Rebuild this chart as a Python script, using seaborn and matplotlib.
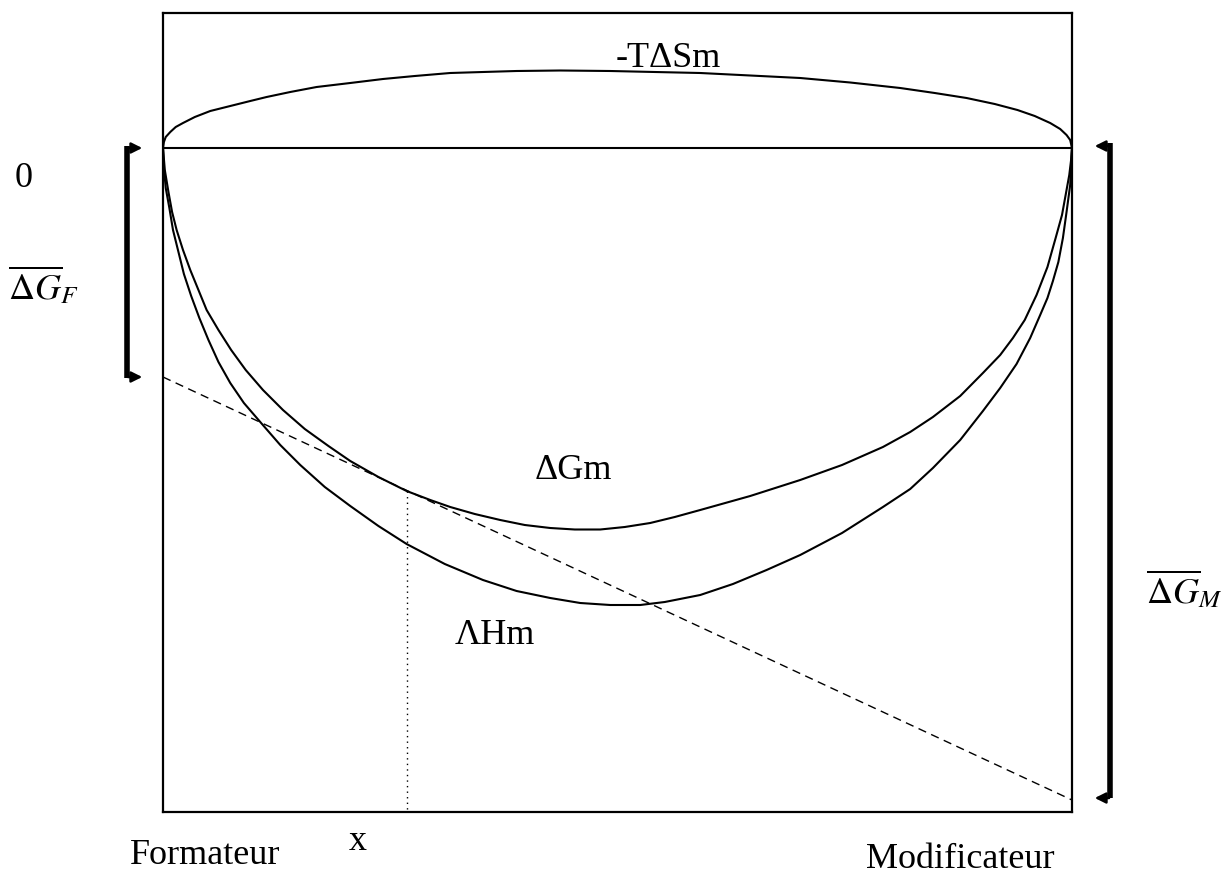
import numpy as np
import pandas as pd
import seaborn as sns
import matplotlib.pyplot as plt

# composition axis (0 = Formateur, 1 = Modificateur) and energies (arbitrary units)
x_tds = [0.000, 0.001, 0.003, 0.008, 0.014, 0.022, 0.035, 0.052, 0.074, 0.096,
         0.114, 0.140, 0.169, 0.206, 0.242, 0.277, 0.316, 0.352, 0.389, 0.437,
         0.492, 0.541, 0.591, 0.646, 0.701, 0.756, 0.811, 0.849, 0.884, 0.915,
         0.940, 0.959, 0.976, 0.987, 0.994, 0.998, 0.999, 1.000]
y_tds = [0.00, 0.06, 0.11, 0.16, 0.21, 0.25, 0.31, 0.37, 0.42, 0.47,
         0.51, 0.56, 0.61, 0.65, 0.69, 0.72, 0.75, 0.76, 0.77, 0.775,
         0.77, 0.76, 0.75, 0.725, 0.70, 0.655, 0.60, 0.55, 0.50, 0.44,
         0.38, 0.32, 0.25, 0.19, 0.13, 0.08, 0.04, 0.00]

x_gm = [0.000, 0.002, 0.006, 0.010, 0.015, 0.022, 0.030, 0.039, 0.048, 0.061,
        0.075, 0.091, 0.110, 0.132, 0.156, 0.182, 0.206, 0.237, 0.268, 0.294,
        0.316, 0.343, 0.371, 0.398, 0.426, 0.453, 0.481, 0.508, 0.536, 0.563,
        0.591, 0.646, 0.701, 0.747, 0.792, 0.822, 0.847, 0.877, 0.902, 0.921,
        0.935, 0.948, 0.961, 0.973, 0.982, 0.989, 0.993, 0.997, 0.999, 1.000]
y_gm = [0.00, -0.22, -0.44, -0.64, -0.82, -1.02, -1.22, -1.42, -1.62, -1.82,
        -2.02, -2.22, -2.42, -2.62, -2.81, -2.98, -3.13, -3.29, -3.43, -3.52,
        -3.59, -3.66, -3.72, -3.77, -3.80, -3.815, -3.815, -3.79, -3.75, -3.69,
        -3.62, -3.48, -3.32, -3.17, -2.99, -2.84, -2.69, -2.48, -2.25, -2.07,
        -1.90, -1.72, -1.47, -1.19, -0.90, -0.67, -0.47, -0.27, -0.12, 0.00]

x_hm = [0.000, 0.001, 0.003, 0.007, 0.011, 0.017, 0.023, 0.031, 0.040, 0.050,
        0.061, 0.074, 0.089, 0.107, 0.129, 0.151, 0.178, 0.206, 0.237, 0.268,
        0.310, 0.352, 0.389, 0.426, 0.459, 0.492, 0.525, 0.552, 0.591, 0.627,
        0.664, 0.701, 0.747, 0.792, 0.822, 0.847, 0.877, 0.902, 0.921, 0.939,
        0.954, 0.965, 0.973, 0.979, 0.985, 0.990, 0.994, 0.998, 0.999, 1.000]
y_hm = [0.00, -0.20, -0.40, -0.60, -0.82, -1.04, -1.26, -1.48, -1.70, -1.92,
        -2.14, -2.35, -2.55, -2.74, -2.97, -3.17, -3.39, -3.58, -3.78, -3.96,
        -4.16, -4.32, -4.43, -4.50, -4.55, -4.57, -4.57, -4.54, -4.47, -4.36,
        -4.22, -4.07, -3.85, -3.59, -3.41, -3.20, -2.92, -2.63, -2.40, -2.16,
        -1.90, -1.67, -1.50, -1.33, -1.14, -0.90, -0.64, -0.37, -0.17, 0.00]

# tangent line: partial molar free energies at x=0 (G_F) and x=1 (G_M)
x_tan = [0.0, 1.0]
y_tan = [-2.29, -6.52]
x_point = 0.268

YMIN, YMAX = -6.64, 1.35

sns.set_theme(style="white")
plt.rcParams['font.family'] = ['Liberation Serif', 'DejaVu Serif']
plt.rcParams['mathtext.fontset'] = 'stix'
plt.rcParams['text.color'] = 'black'

fig = plt.figure(figsize=(12.23, 8.77), dpi=100)
ax = fig.add_axes([163 / 1223, 1 - 812 / 877, 909 / 1223, 799 / 877])

lw = 1.5
sns.lineplot(x=x_tds, y=y_tds, ax=ax, color='black', lw=lw, sort=False)
sns.lineplot(x=x_gm, y=y_gm, ax=ax, color='black', lw=lw, sort=False)
sns.lineplot(x=x_hm, y=y_hm, ax=ax, color='black', lw=lw, sort=False)
sns.lineplot(x=x_tan, y=y_tan, ax=ax, color='black', lw=1.0, sort=False,
             linestyle=(0, (6, 4)))
ax.axhline(0, color='black', lw=lw)
y_at = float(np.interp(x_point, x_gm, y_gm))
ax.plot([x_point, x_point], [y_at, YMIN], color='black', lw=1.0, linestyle=(0, (1, 3)))

ax.set_xlim(0, 1)
ax.set_ylim(YMIN, YMAX)
ax.set_xticks([])
ax.set_yticks([])
ax.set_xlabel('')
ax.set_ylabel('')
for s in ax.spines.values():
    s.set_visible(True)
    s.set_color('black')
    s.set_linewidth(1.6)

# brackets with arrows
xl, xl_head = -0.0396, -0.0198
ax.plot([xl, xl], [0.02, y_tan[0] - 0.01], color='black', lw=4, clip_on=False, solid_capstyle='butt')
for yy in (0, y_tan[0]):
    ax.annotate('', xy=(xl_head, yy), xytext=(xl - 0.002, yy),
                arrowprops=dict(arrowstyle='-|>', color='black', lw=1.8, mutation_scale=16),
                annotation_clip=False)
xr, xr_head = 1.0418, 1.022
ax.plot([xr, xr], [0.05, y_tan[1] + 0.02], color='black', lw=4, clip_on=False, solid_capstyle='butt')
for yy in (0.02, y_tan[1] + 0.02):
    ax.annotate('', xy=(xr_head, yy), xytext=(xr + 0.002, yy),
                arrowprops=dict(arrowstyle='-|>', color='black', lw=1.8, mutation_scale=16),
                annotation_clip=False)

fs = 26
kw = dict(ha='center', va='center', fontsize=fs, clip_on=False, color='black')
ax.text(-0.153, -0.30, '0', **kw)
ax.text(-0.131, -1.38, r'$\overline{\Delta G}_{F}$', **kw)
ax.text(1.124, -4.42, r'$\overline{\Delta G}_{M}$', **kw)
ax.text(0.5556, 0.90, '-TΔSm', **kw)
ax.text(0.451, -3.22, 'ΔGm', **kw)
ax.text(0.365, -4.88, 'ΛHm', **kw)
ax.text(0.046, -7.07, 'Formateur', **kw)
ax.text(0.2145, -6.94, 'x', **kw)
ax.text(0.877, -7.12, 'Modificateur', **kw)

fig.savefig('out.png', dpi=100)
